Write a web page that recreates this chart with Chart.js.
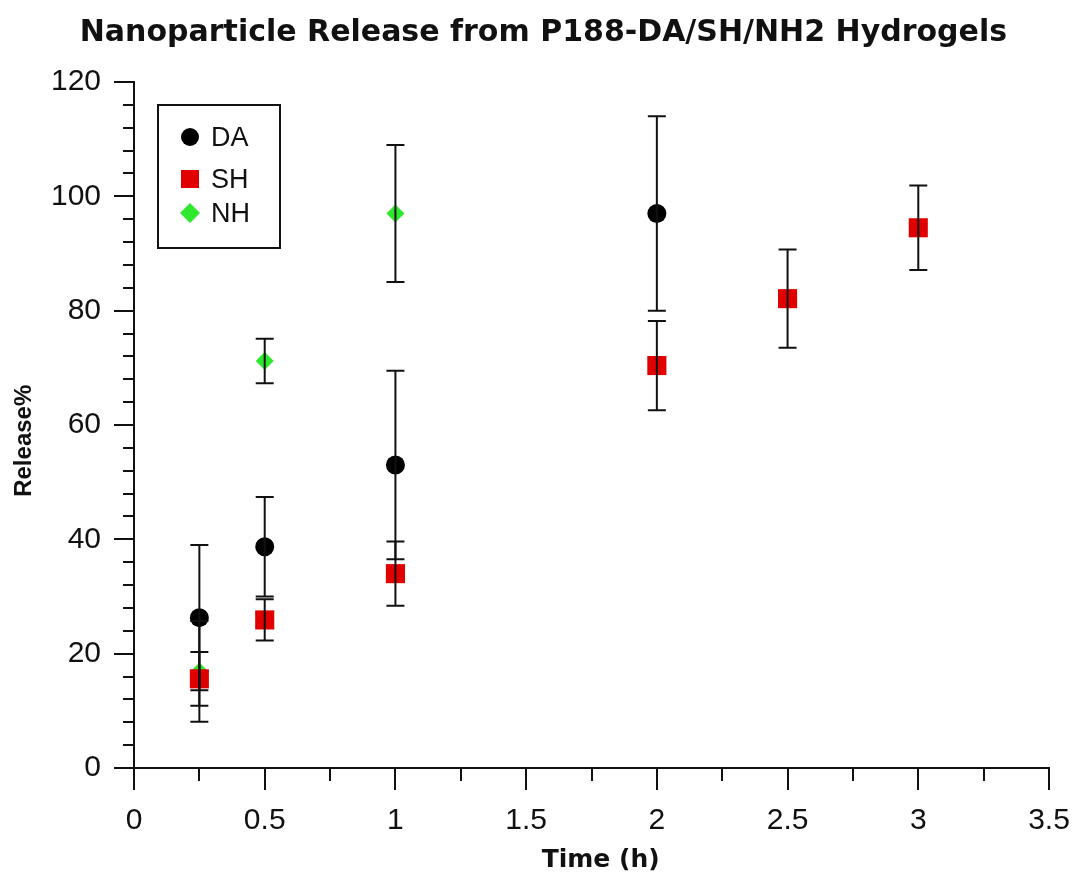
<!DOCTYPE html>
<html>
<head>
<meta charset="utf-8">
<script src="https://cdn.jsdelivr.net/npm/chart.js@4/dist/chart.umd.min.js"></script>
<style>
  html, body { margin: 0; padding: 0; background: #fff; }
  #wrap { width: 1076px; height: 881px; }
</style>
</head>
<body>
<div id="wrap"><canvas id="releaseChart"></canvas></div>
<script>
// values (time in h, release in %, +/- error)
const daTime = [0.25, 0.5, 1, 2];
const daRelease = [26.3, 38.7, 53.0, 97.0];
const daErr = [12.7, 8.7, 16.5, 17.0];

const shTime = [0.25, 0.5, 1, 2, 2.5, 3];
const shRelease = [15.6, 25.9, 34.0, 70.4, 82.1, 94.5];
const shErr = [4.7, 3.6, 5.6, 7.8, 8.6, 7.4];

const nhTime = [0.25, 0.5, 1];
const nhRelease = [16.9, 71.2, 97.0];
const nhErr = [8.8, 3.9, 12.0];

const xTicks = [0, 0.5, 1, 1.5, 2, 2.5, 3, 3.5];
const yTicks = [0, 20, 40, 60, 80, 100, 120];

const chartTitle = "Nanoparticle Release from P188-DA/SH/NH2 Hydrogels";
const xTitle = "Time (h)";
const yTitle = "Release%";

const sansFont = "'Liberation Sans', Arial, Helvetica, sans-serif";
const wideBold = "'DejaVu Sans', 'Liberation Sans', sans-serif";

function toPoints(xs, ys, errs) {
  return xs.map((x, i) => ({ x: x, y: ys[i], err: errs[i] }));
}

// error bars, drawn on top of the markers like the original
const errorBars = {
  id: "errorBars",
  afterDatasetsDraw(chart) {
    const ctx = chart.ctx;
    const xs = chart.scales.x;
    const ys = chart.scales.y;
    ctx.save();
    ctx.strokeStyle = "#111";
    ctx.lineWidth = 2;
    chart.data.datasets.forEach(ds => {
      ds.data.forEach(p => {
        const px = xs.getPixelForValue(p.x);
        const top = ys.getPixelForValue(p.y + p.err);
        const bot = ys.getPixelForValue(p.y - p.err);
        ctx.beginPath();
        ctx.moveTo(px, top);
        ctx.lineTo(px, bot);
        ctx.moveTo(px - 9, top);
        ctx.lineTo(px + 9, top);
        ctx.moveTo(px - 9, bot);
        ctx.lineTo(px + 9, bot);
        ctx.stroke();
      });
    });
    ctx.restore();
  }
};

// minor ticks, chart title and axis titles
const axisExtras = {
  id: "axisExtras",
  afterDraw(chart) {
    const ctx = chart.ctx;
    const xs = chart.scales.x;
    const ys = chart.scales.y;
    const area = chart.chartArea;
    ctx.save();
    ctx.strokeStyle = "#111";
    ctx.lineWidth = 2;
    ctx.beginPath();
    for (let v = ys.min; v <= ys.max; v += 4) {
      if (v % 20 === 0) continue;
      const py = Math.round(ys.getPixelForValue(v));
      ctx.moveTo(area.left - 11, py);
      ctx.lineTo(area.left, py);
    }
    for (let v = xs.min; v <= xs.max; v += 0.25) {
      if (Math.abs(v * 2 - Math.round(v * 2)) < 1e-6) continue;
      const px = Math.round(xs.getPixelForValue(v));
      ctx.moveTo(px, area.bottom);
      ctx.lineTo(px, area.bottom + 13);
    }
    ctx.stroke();

    ctx.fillStyle = "#111";
    ctx.textAlign = "center";
    ctx.textBaseline = "middle";
    ctx.font = "bold 30px " + wideBold;
    ctx.fillText(chartTitle, chart.width * 0.505, 33);

    ctx.font = "bold 25px " + wideBold;
    ctx.fillText(xTitle, area.left + (area.right - area.left) * 0.51, area.bottom + 92);

    ctx.translate(24, area.top + (area.bottom - area.top) * 0.523);
    ctx.rotate(-Math.PI / 2);
    ctx.font = "bold 24px " + sansFont;
    ctx.fillText(yTitle, 0, 0);
    ctx.restore();
  }
};

// boxed legend in the top-left corner of the plot
const boxLegend = {
  id: "boxLegend",
  afterDraw(chart) {
    const ctx = chart.ctx;
    const area = chart.chartArea;
    const left = area.left + 24;
    const top = area.top + 23;
    ctx.save();
    ctx.strokeStyle = "#111";
    ctx.lineWidth = 2;
    ctx.strokeRect(left, top, 122, 143);
    const rows = [32, 74, 108];
    ctx.font = "27px " + sansFont;
    ctx.textBaseline = "middle";
    chart.data.datasets.forEach((ds, i) => {
      const cx = left + 32;
      const cy = top + rows[i];
      ctx.fillStyle = ds.backgroundColor;
      ctx.beginPath();
      if (ds.pointStyle === "circle") {
        ctx.arc(cx, cy, 9, 0, Math.PI * 2);
      } else if (ds.pointStyle === "rect") {
        ctx.rect(cx - 9, cy - 9, 18, 18);
      } else {
        ctx.moveTo(cx, cy - 10);
        ctx.lineTo(cx + 10, cy);
        ctx.lineTo(cx, cy + 10);
        ctx.lineTo(cx - 10, cy);
        ctx.closePath();
      }
      ctx.fill();
      ctx.fillStyle = "#111";
      ctx.fillText(ds.label, left + 53, cy + 2);
    });
    ctx.restore();
  }
};

const ctx = document.getElementById("releaseChart").getContext("2d");
new Chart(ctx, {
  type: "scatter",
  data: {
    datasets: [
      {
        label: "DA",
        data: toPoints(daTime, daRelease, daErr),
        pointStyle: "circle",
        pointRadius: 9.5,
        backgroundColor: "#000",
        borderColor: "#000",
        borderWidth: 0
      },
      {
        label: "SH",
        data: toPoints(shTime, shRelease, shErr),
        pointStyle: "rect",
        pointRadius: 13.5,
        backgroundColor: "#e00000",
        borderColor: "#e00000",
        borderWidth: 0
      },
      {
        label: "NH",
        data: toPoints(nhTime, nhRelease, nhErr),
        pointStyle: "rectRot",
        pointRadius: 9,
        backgroundColor: "#2ee82e",
        borderColor: "#2ee82e",
        borderWidth: 0
      }
    ]
  },
  options: {
    responsive: true,
    maintainAspectRatio: false,
    animation: false,
    layout: { padding: { left: 0, right: 27, top: 82, bottom: 0 } },
    plugins: {
      legend: { display: false },
      tooltip: { enabled: false },
      title: { display: false }
    },
    scales: {
      x: {
        type: "linear",
        min: 0,
        max: 3.5,
        afterBuildTicks: axis => { axis.ticks = xTicks.map(v => ({ value: v })); },
        afterFit: axis => { axis.height = 113; axis.paddingRight = 0; },
        border: { color: "#111", width: 2 },
        grid: { drawOnChartArea: false, tickLength: 22, color: "#111", lineWidth: 2 },
        ticks: {
          color: "#111",
          padding: 13,
          font: { family: sansFont, size: 30 },
          callback: v => String(v)
        }
      },
      y: {
        type: "linear",
        min: 0,
        max: 120,
        afterBuildTicks: axis => { axis.ticks = yTicks.map(v => ({ value: v })); },
        afterFit: axis => { axis.width = 134; axis.paddingTop = 0; },
        border: { color: "#111", width: 2 },
        grid: { drawOnChartArea: false, tickLength: 20, color: "#111", lineWidth: 2 },
        ticks: {
          color: "#111",
          padding: 13,
          font: { family: sansFont, size: 30 },
          callback: v => String(v)
        }
      }
    }
  },
  plugins: [errorBars, axisExtras, boxLegend]
});
</script>
</body>
</html>
